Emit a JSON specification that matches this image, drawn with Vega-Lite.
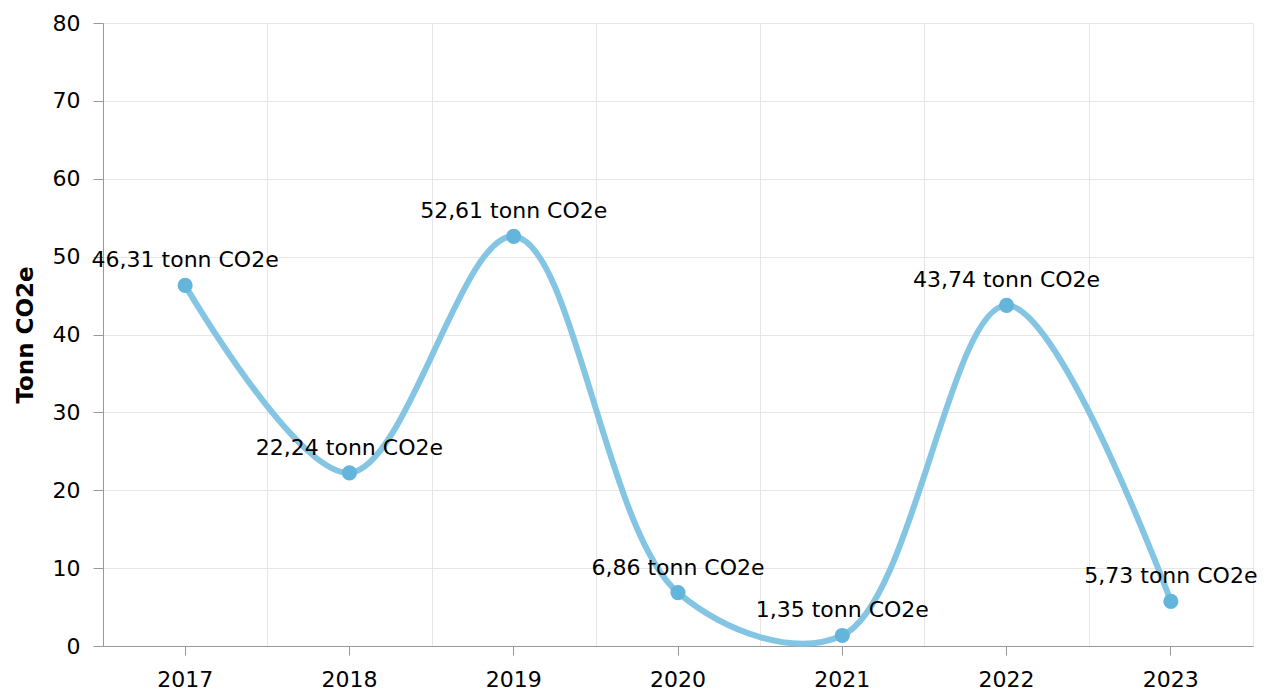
{
  "$schema": "https://vega.github.io/schema/vega-lite/v6.json",
  "width": 1150,
  "height": 623,
  "autosize": {"type": "none"},
  "padding": {"left": 103, "top": 23, "right": 18, "bottom": 46},
  "background": "white",
  "config": {
    "font": "DejaVu Sans",
    "view": {"stroke": null},
    "axis": {"labelFont": "DejaVu Sans", "titleFont": "DejaVu Sans"}
  },
  "data": {
    "values": [
      {"year": "2017", "value": 46.31, "label": "46,31 tonn CO2e"},
      {"year": "2018", "value": 22.24, "label": "22,24 tonn CO2e"},
      {"year": "2019", "value": 52.61, "label": "52,61 tonn CO2e"},
      {"year": "2020", "value": 6.86, "label": "6,86 tonn CO2e"},
      {"year": "2021", "value": 1.35, "label": "1,35 tonn CO2e"},
      {"year": "2022", "value": 43.74, "label": "43,74 tonn CO2e"},
      {"year": "2023", "value": 5.73, "label": "5,73 tonn CO2e"}
    ]
  },
  "resolve": {"axis": {"x": "independent"}},
  "layer": [
    {
      "mark": {"type": "line", "interpolate": "catmull-rom", "color": "#84c5e4", "strokeWidth": 6},
      "encoding": {
        "x": {
          "field": "year", "type": "ordinal",
          "scale": {"type": "band", "paddingInner": 0, "paddingOuter": 0},
          "axis": {
            "orient": "bottom", "title": null, "labels": false, "ticks": false, "domain": false,
            "grid": true, "tickBand": "extent", "gridColor": "#e6e6e6", "gridWidth": 1
          }
        },
        "y": {
          "field": "value", "type": "quantitative",
          "scale": {"domain": [0, 80], "nice": false},
          "axis": {
            "title": "Tonn CO2e", "titleFontSize": 23, "titleFontWeight": "bold", "titleColor": "#000000",
            "titlePadding": 15,
            "values": [0, 10, 20, 30, 40, 50, 60, 70, 80],
            "labelFontSize": 22, "labelColor": "#000000", "labelPadding": 13,
            "tickSize": 10, "tickColor": "#999999", "domainColor": "#999999",
            "gridColor": "#e6e6e6", "gridWidth": 1
          }
        }
      }
    },
    {
      "mark": {"type": "point", "filled": true, "opacity": 1, "color": "#64b5dc", "size": 230},
      "encoding": {
        "x": {
          "field": "year", "type": "ordinal",
          "axis": {
            "orient": "bottom", "title": null, "grid": false, "labelAngle": 0,
            "labelFontSize": 22, "labelColor": "#000000", "labelPadding": 14,
            "tickSize": 9, "tickColor": "#999999", "domainColor": "#999999"
          }
        },
        "y": {"field": "value", "type": "quantitative"}
      }
    },
    {
      "mark": {"type": "text", "fontSize": 22, "color": "#000000", "baseline": "middle", "dy": -25},
      "encoding": {
        "x": {"field": "year", "type": "ordinal", "axis": null},
        "y": {"field": "value", "type": "quantitative"},
        "text": {"field": "label"}
      }
    }
  ]
}
